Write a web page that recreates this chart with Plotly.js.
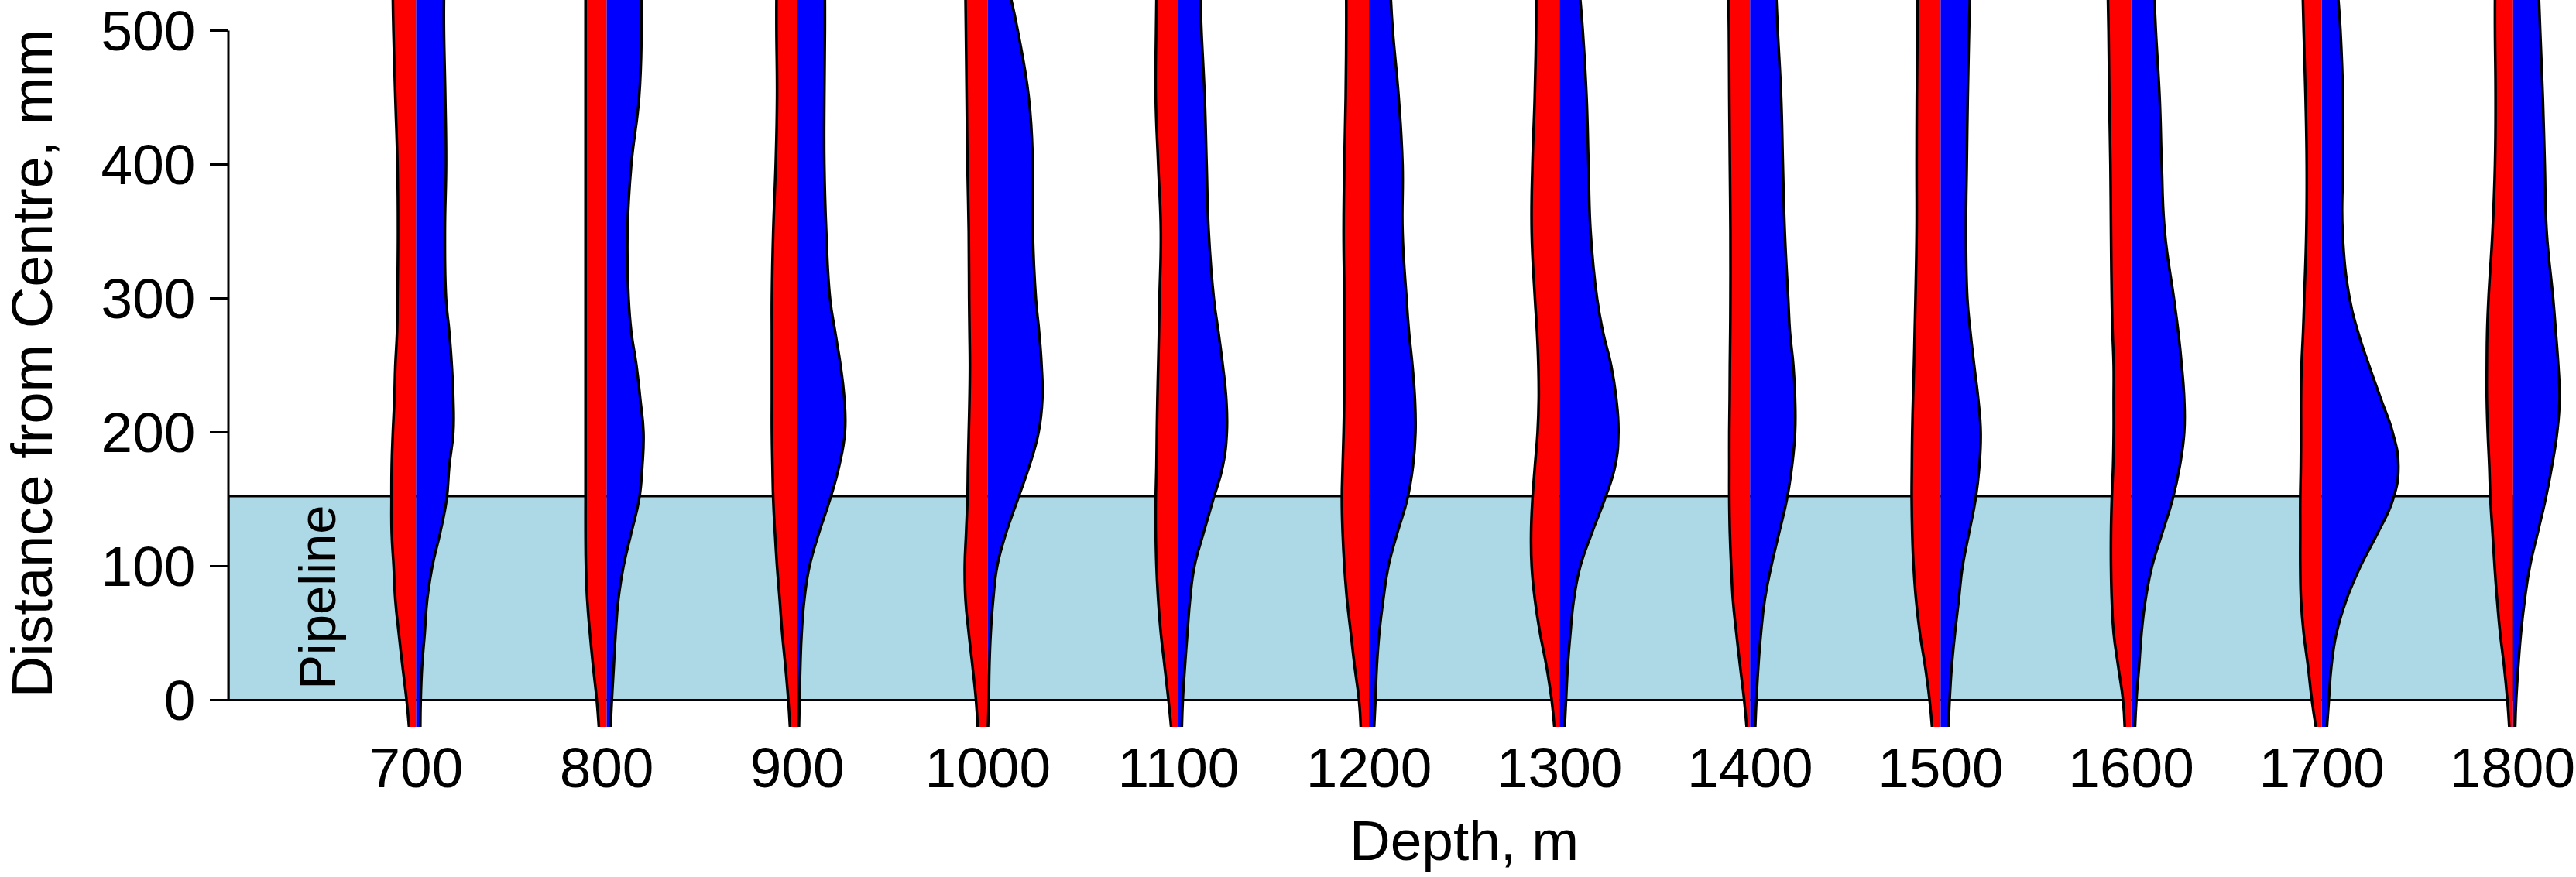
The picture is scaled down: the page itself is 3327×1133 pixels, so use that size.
<!DOCTYPE html>
<html>
<head>
<meta charset="utf-8">
<script src="https://cdn.plot.ly/plotly-3.0.1.min.js"></script>
<style>html,body{margin:0;padding:0;background:#fff}#chart{width:3327px;height:1133px}</style>
</head>
<body>
<div id="chart"></div>
<script>
// Depths (x categories, m)
const depths = [700, 800, 900, 1000, 1100, 1200, 1300, 1400, 1500, 1600, 1700, 1800];
// Distance from centre levels (mm) at which profile half-widths were read
const distanceLevels = [523, 500, 450, 400, 350, 300, 275, 250, 225, 200, 175, 150, 125, 100, 75, 50, 25, 0, -20];
const yTickVals = [0, 100, 200, 300, 400, 500];
const pipelineTop = 152.4;
const xRange = [601.5, 1833.4];
const yRange = [-19.9, 522.9];

// Left (red) half-widths, in depth units (m)
const red700  = [12.2, 11.9, 10.9, 9.8, 9.5, 9.8, 10.0, 10.9, 11.4, 12.2, 12.8, 12.9, 12.8, 11.8, 10.9, 9.1, 7.1, 5.0, 3.7];
const red800  = [11.1, 11.1, 11.1, 11.1, 11.1, 11.1, 11.1, 11.1, 11.1, 11.1, 11.1, 11.1, 11.1, 10.9, 10.2, 8.8, 7.1, 5.2, 4.1];
const red900  = [10.9, 10.9, 10.6, 11.3, 12.6, 13.3, 13.3, 13.3, 13.3, 13.3, 13.0, 12.6, 11.7, 10.6, 9.2, 7.9, 6.2, 4.7, 3.8];
const red1000 = [11.7, 11.5, 11.1, 10.7, 10.0, 9.8, 9.6, 9.4, 9.6, 10.0, 10.4, 10.7, 11.4, 12.1, 11.7, 10.0, 8.0, 6.2, 5.3];
const red1100 = [11.5, 11.7, 11.9, 10.6, 9.2, 9.9, 10.2, 10.6, 11.0, 11.3, 11.5, 11.9, 11.9, 11.5, 10.6, 9.2, 7.2, 5.2, 3.8];
const red1200 = [11.9, 11.9, 12.2, 12.9, 13.3, 12.9, 12.9, 12.9, 13.0, 13.3, 13.8, 14.2, 13.8, 12.9, 11.5, 9.5, 7.5, 5.2, 4.3];
const red1300 = [12.2, 12.3, 13.0, 14.2, 14.6, 12.9, 11.8, 11.1, 10.9, 11.5, 12.9, 14.2, 14.9, 14.6, 12.9, 10.2, 6.8, 4.1, 2.7];
const red1400 = [11.3, 11.1, 10.9, 10.6, 10.3, 10.3, 10.4, 10.6, 10.7, 10.9, 10.9, 10.9, 10.6, 9.9, 9.0, 7.2, 5.2, 3.1, 1.8];
const red1500 = [12.2, 12.2, 12.5, 12.6, 12.6, 13.2, 13.6, 14.0, 14.5, 14.9, 15.1, 15.2, 14.9, 14.2, 12.9, 10.9, 8.1, 5.8, 4.5];
const red1600 = [12.2, 11.9, 11.5, 10.9, 10.6, 10.2, 9.8, 9.2, 9.2, 9.2, 9.5, 10.2, 10.6, 10.6, 10.2, 9.2, 6.8, 4.3, 3.4];
const red1700 = [9.9, 9.5, 8.5, 7.9, 8.1, 9.2, 9.8, 10.6, 10.9, 10.9, 11.0, 11.3, 11.3, 11.3, 10.9, 9.5, 7.2, 5.2, 3.1];
const red1800 = [9.1, 9.1, 8.8, 9.1, 10.4, 12.5, 13.2, 13.4, 13.4, 12.9, 12.1, 11.5, 10.4, 9.3, 8.0, 6.4, 4.3, 2.6, 1.6];

// Right (blue) half-widths, in depth units (m)
const blue700  = [14.6, 14.6, 15.3, 15.7, 15.1, 15.7, 17.4, 18.7, 19.5, 19.5, 17.4, 16.0, 12.6, 8.5, 5.8, 4.5, 3.1, 2.4, 2.2];
const blue800  = [18.3, 18.3, 17.0, 12.9, 10.9, 11.5, 12.9, 15.6, 17.6, 19.3, 18.7, 17.0, 12.9, 8.8, 6.1, 4.7, 3.7, 2.7, 2.0];
const blue900  = [14.5, 14.5, 14.2, 14.2, 15.2, 17.2, 19.9, 22.7, 24.7, 25.0, 22.0, 17.2, 11.4, 6.4, 3.7, 2.3, 1.6, 1.2, 0.9];
const blue1000 = [12.3, 15.7, 21.5, 23.6, 23.6, 25.2, 26.9, 28.2, 28.6, 26.6, 21.8, 15.7, 9.6, 4.9, 2.8, 1.5, 0.8, 0.5, 0.1];
const blue1100 = [11.5, 12.1, 13.8, 14.8, 15.9, 18.6, 21.0, 23.3, 25.1, 25.4, 23.3, 18.3, 13.2, 8.4, 6.1, 4.7, 3.4, 2.3, 1.8];
const blue1200 = [11.5, 12.5, 15.6, 17.6, 17.6, 19.7, 21.0, 22.8, 24.1, 24.4, 23.1, 20.1, 14.9, 10.2, 7.5, 5.4, 4.1, 3.4, 2.7];
const blue1300 = [10.9, 12.2, 14.2, 15.2, 16.3, 19.7, 22.8, 27.1, 29.8, 30.9, 29.2, 23.7, 17.0, 10.9, 7.5, 5.7, 4.3, 3.4, 2.7];
const blue1400 = [13.8, 14.5, 16.3, 17.2, 18.2, 20.0, 20.9, 22.7, 23.6, 23.6, 22.0, 19.3, 15.2, 11.1, 7.7, 5.7, 4.3, 3.3, 2.7];
const blue1500 = [15.3, 14.9, 14.2, 13.7, 13.3, 14.0, 15.6, 17.6, 19.7, 21.0, 20.3, 18.3, 14.9, 11.5, 9.5, 7.5, 5.8, 4.7, 4.1];
const blue1600 = [12.2, 12.9, 14.9, 16.0, 17.6, 22.4, 24.7, 26.5, 27.8, 27.8, 25.5, 21.7, 16.3, 10.9, 7.5, 5.4, 4.1, 2.7, 2.0];
const blue1700 = [8.7, 9.8, 11.1, 11.1, 10.9, 14.6, 19.0, 24.8, 31.0, 37.2, 40.2, 37.4, 29.4, 20.3, 12.9, 7.7, 5.0, 3.7, 2.7];
const blue1800 = [14.0, 14.6, 16.0, 17.0, 18.0, 21.4, 22.8, 24.1, 24.8, 23.5, 20.8, 17.4, 13.3, 9.2, 6.5, 4.5, 3.1, 2.0, 1.5];

const redHalves = [red700, red800, red900, red1000, red1100, red1200, red1300, red1400, red1500, red1600, red1700, red1800];
const blueHalves = [blue700, blue800, blue900, blue1000, blue1100, blue1200, blue1300, blue1400, blue1500, blue1600, blue1700, blue1800];

const FONT = 'Liberation Sans, Arial, Helvetica, sans-serif';
const TEXT_SIZE = 73;
const traces = [];
depths.forEach((d, i) => {
  const centre = distanceLevels.map(() => d);
  const base = {y: distanceLevels, mode: 'lines', hoverinfo: 'skip', showlegend: false};
  const edge = {color: '#000000', width: 3.5, shape: 'spline', smoothing: 1.3, simplify: false};
  traces.push(Object.assign({}, base, {x: centre, line: {width: 0, color: 'rgba(0,0,0,0)'}}));
  traces.push(Object.assign({}, base, {
    x: redHalves[i].map(w => d - w), line: edge,
    fill: 'tonextx', fillcolor: '#FF0000'
  }));
  traces.push(Object.assign({}, base, {x: centre, line: {width: 0, color: 'rgba(0,0,0,0)'}}));
  traces.push(Object.assign({}, base, {
    x: blueHalves[i].map(w => d + w), line: edge,
    fill: 'tonextx', fillcolor: '#0000FF'
  }));
});

const layout = {
  width: 3327, height: 1133,
  margin: {l: 295, r: 0, t: 0, b: 194, pad: 0},
  paper_bgcolor: '#ffffff', plot_bgcolor: '#ffffff',
  font: {family: FONT, size: TEXT_SIZE, color: '#000000'},
  showlegend: false,
  xaxis: {
    range: xRange,
    tickvals: depths, ticktext: depths.map(String),
    ticks: '', showline: false, showgrid: false, zeroline: false,
    tickfont: {family: FONT, size: TEXT_SIZE, color: '#000000'},
    ticklabelstandoff: 4, ticklabeloverflow: 'allow'
  },
  yaxis: {
    range: yRange,
    tickvals: yTickVals, ticktext: yTickVals.map(String),
    ticks: 'outside', ticklen: 23, tickwidth: 3, tickcolor: '#000000',
    showline: false, showgrid: false, zeroline: false,
    tickfont: {family: FONT, size: TEXT_SIZE, color: '#000000'},
    ticklabelstandoff: 4, ticklabeloverflow: 'allow',
    title: {text: 'Distance from Centre, mm', font: {family: FONT, size: 74, color: '#000000'}, standoff: 50}
  },
  shapes: [
    {type: 'rect', xref: 'x', yref: 'y', x0: xRange[0], x1: depths[depths.length - 1], y0: 0, y1: pipelineTop,
     fillcolor: '#ADD8E6', line: {color: '#000000', width: 3}, layer: 'below'},
    {type: 'line', xref: 'paper', yref: 'y', x0: 0, x1: 0, y0: 0, y1: 500,
     line: {color: '#000000', width: 3}, layer: 'above'}
  ],
  annotations: [
    {text: 'Depth, m', xref: 'x', x: 1250, yref: 'paper', y: -0.156,
     xanchor: 'center', yanchor: 'middle', showarrow: false,
     font: {family: FONT, size: TEXT_SIZE, color: '#000000'}},
    {text: 'Pipeline', xref: 'x', x: 648.2, yref: 'y', y: 76.7, textangle: -90,
     xanchor: 'center', yanchor: 'middle', showarrow: false,
     font: {family: FONT, size: 67, color: '#000000'}}
  ]
};

Plotly.newPlot('chart', traces, layout, {staticPlot: true, displayModeBar: false});
</script>
</body>
</html>
